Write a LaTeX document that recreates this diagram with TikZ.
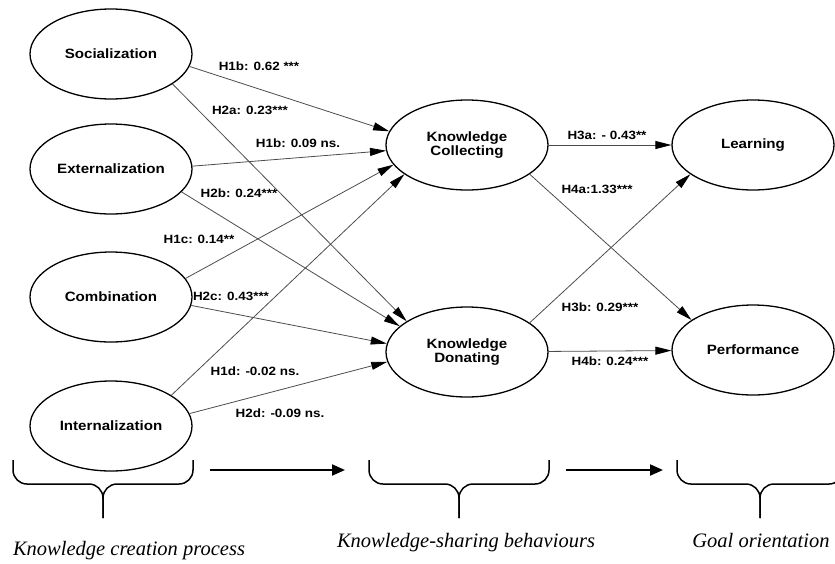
\documentclass[tikz,border=0pt]{standalone}
\usepackage{fontspec}
\setmainfont{Liberation Serif}
\newfontfamily\hfont[FakeStretch=1.12]{Liberation Sans}
\usetikzlibrary{shapes.geometric}
\usetikzlibrary{arrows.meta}

\tikzset{
  construct/.style={ellipse, draw, line width=1.3pt, minimum width=162pt, minimum height=90pt,
    inner sep=0pt, align=center, font=\hfont\bfseries\fontsize{13.5}{14.5}\selectfont},
  link/.style={-{Triangle[length=16pt,width=8pt,color=black]}, draw=black!70, line width=0.8pt},
  coef/.style={font=\hfont\bfseries\fontsize{12}{13}\selectfont, inner sep=0pt},
  flow/.style={-{Triangle[length=13pt,width=11pt]}, line width=2pt},
  brc/.style={line width=1.5pt, rounded corners=14pt},
  phase/.style={anchor=base, inner sep=0pt, font=\itshape\fontsize{20.5}{22}\selectfont}
}

\begin{document}
\begin{tikzpicture}[x=1pt,y=-1pt]
\clip (0,0) rectangle (835,563);

\node[construct] (SO) at (111,54) {Socialization};
\node[construct] (EX) at (111,169) {Externalization};
\node[construct] (CO) at (111,297) {Combination};
\node[construct] (IN) at (111,426) {Internalization};
\node[construct] (KC) at (467,145) {Knowledge\\Collecting};
\node[construct] (KD) at (467,352) {Knowledge\\Donating};
\node[construct] (LE) at (753,145) {Learning};
\node[construct] (PE) at (753,350) {Performance};

\draw[link] (SO.-9) -- (KC.170);
\draw[link] (SO.-26) -- (KD.153);
\draw[link] (EX.2) -- (KC.184);
\draw[link] (EX.-18) -- (KD.159);
\draw[link] (CO.14) -- (KC.195);
\draw[link] (CO.-6) -- (KD.174);
\draw[link] (IN.27) -- (KC.205);
\draw[link] (IN.9) -- (KD.187);
\draw[link] (KC) -- (LE);
\draw[link] (KC.-25) -- (PE.154);
\draw[link] (KD.25) -- (LE.205);
\draw[link] (KD) -- (PE);

\node[coef] (H1B) at (259,66) {H1b: 0.62 ***};
\node[coef] (H2A) at (250,110) {H2a: 0.23***};
\node[coef] (H1BB) at (298,143) {H1b: 0.09 ns.};
\node[coef] (H2B) at (239,193) {H2b: 0.24***};
\node[coef] (H1C) at (199,239) {H1c: 0.14**};
\node[coef] (H2C) at (231,296) {H2c: 0.43***};
\node[coef] (H1D) at (255,371) {H1d: -0.02 ns.};
\node[coef] (H2D) at (280,413) {H2d: -0.09 ns.};
\node[coef] (H3A) at (607,135) {H3a: - 0.43**};
\node[coef] (H4A) at (597,189) {H4a:1.33***};
\node[coef] (H3B) at (600,307) {H3b: 0.29***};
\node[coef] (H4B) at (610,361) {H4b: 0.24***};

\foreach \l/\m/\r in {13/103/193, 369/459/549, 677/760/843}{
  \draw[brc] (\l,460) -- (\l,484) -- (\m,484) -- (\m,518);
  \draw[brc] (\r,460) -- (\r,484) -- (\m,484) -- (\m,518);
}

\coordinate (A1) at (210,470); \coordinate (B1) at (345,470);
\coordinate (A2) at (566,470); \coordinate (B2) at (663,470);
\draw[flow] (A1) -- (B1);
\draw[flow] (A2) -- (B2);

\node[phase] (P1) at (129,555) {Knowledge creation process};
\node[phase] (P2) at (466,547) {Knowledge-sharing behaviours};
\node[phase] (P3) at (761,547) {Goal orientation};

\end{tikzpicture}
\end{document}
